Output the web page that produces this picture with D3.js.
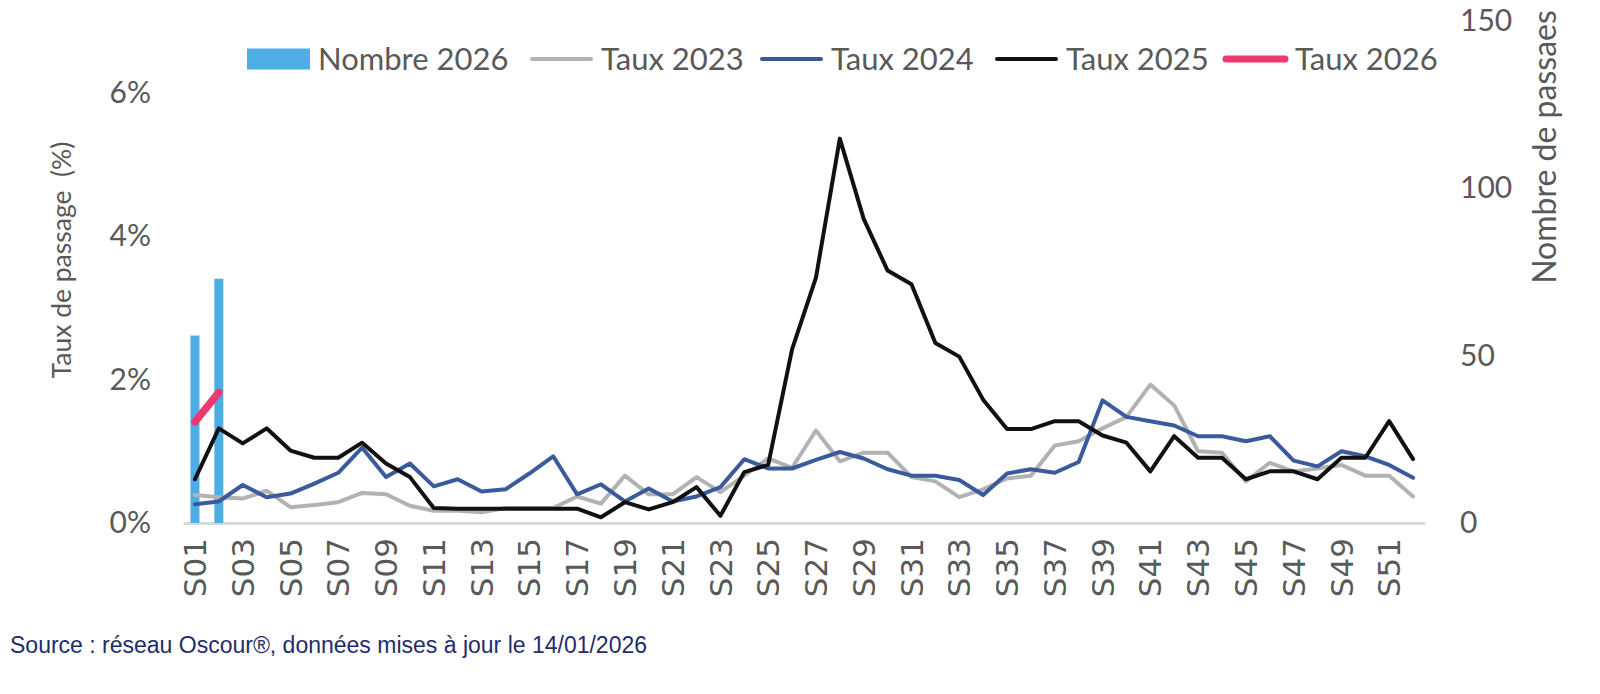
<!DOCTYPE html>
<html>
<head>
<meta charset="utf-8">
<script src="https://cdn.jsdelivr.net/npm/d3@7"></script>
<style>
  body { margin: 0; background: #fff; }
  text { font-family: Lato, "Open Sans", sans-serif; fill: #595959; }
</style>
</head>
<body>
<div id="chart"></div>
<script>
'use strict'
// semaines
var weeks = ['S01','S02','S03','S04','S05','S06','S07','S08','S09','S10',
  'S11','S12','S13','S14','S15','S16','S17','S18','S19','S20',
  'S21','S22','S23','S24','S25','S26','S27','S28','S29','S30',
  'S31','S32','S33','S34','S35','S36','S37','S38','S39','S40',
  'S41','S42','S43','S44','S45','S46','S47','S48','S49','S50',
  'S51','S52']

// nombre de passages 2026 (axe droit)
var nombre2026 = [56, 73]

// taux de passage (%)
var taux2023 = [0.39,0.36,0.34,0.45,0.22,0.25,0.29,0.42,0.40,0.24,
  0.17,0.17,0.15,0.21,0.21,0.21,0.37,0.27,0.66,0.40,
  0.40,0.64,0.43,0.66,0.90,0.77,1.29,0.86,0.98,0.98,
  0.64,0.58,0.36,0.47,0.62,0.66,1.08,1.14,1.32,1.48,
  1.93,1.64,1.00,0.98,0.58,0.84,0.72,0.76,0.81,0.66,
  0.66,0.37]
var taux2024 = [0.26,0.30,0.53,0.36,0.41,0.55,0.70,1.05,0.64,0.83,
  0.51,0.61,0.44,0.47,0.69,0.93,0.40,0.54,0.30,0.48,
  0.30,0.37,0.50,0.89,0.76,0.76,0.88,0.99,0.90,0.75,
  0.66,0.66,0.60,0.39,0.69,0.75,0.70,0.85,1.71,1.48,
  1.42,1.36,1.21,1.21,1.14,1.21,0.87,0.79,1.00,0.93,
  0.81,0.63]
var taux2025 = [0.61,1.32,1.11,1.32,1.01,0.91,0.91,1.12,0.83,0.64,
  0.21,0.20,0.20,0.20,0.20,0.20,0.20,0.08,0.29,0.19,
  0.29,0.50,0.10,0.71,0.81,2.42,3.42,5.36,4.24,3.52,
  3.33,2.51,2.32,1.72,1.31,1.31,1.42,1.42,1.22,1.12,
  0.72,1.21,0.91,0.91,0.61,0.72,0.72,0.61,0.91,0.91,
  1.42,0.89]
var taux2026 = [1.41, 1.82]

var leftTicks = [0, 2, 4, 6]
var rightTicks = [0, 50, 100, 150]

var colors = {
  bar: '#4fade6',
  t2023: '#b2b2b2',
  t2024: '#3a5a9c',
  t2025: '#111111',
  t2026: '#ec3a6e'
}

var W = 1600, H = 694
var svg = d3.select('#chart').append('svg')
            .attr('width', W)
            .attr('height', H)

var x = d3.scaleBand().domain(weeks).range([183, 1425])
var yL = d3.scaleLinear().domain([0, 7]).range([523, 21])
var yR = d3.scaleLinear().domain([0, 150]).range([523, 21])

// axe des semaines
var xAxis = svg.append('g')
  .attr('transform', 'translate(0,523)')
  .call(d3.axisBottom(x).tickSize(0).tickSizeOuter(0)
    .tickFormat(function (d, i) { return i % 2 === 0 ? d : '' }))
xAxis.select('.domain').attr('stroke', '#d9d9d9').attr('stroke-width', 3)
xAxis.selectAll('text')
  .attr('transform', 'rotate(-90)')
  .attr('x', -15)
  .attr('y', 0)
  .attr('dy', '0.36em')
  .attr('text-anchor', 'end')
  .style('font-family', '"DejaVu Sans", sans-serif')
  .style('font-size', '31px')
  .style('fill', '#595959')

// axe gauche
var left = svg.append('g')
  .attr('transform', 'translate(183,0)')
  .call(d3.axisLeft(yL).tickValues(leftTicks).tickSize(0).tickPadding(32)
    .tickFormat(function (d) { return d + '%' }))
left.select('.domain').remove()
left.selectAll('text').style('font-size', '30px').style('font-family', 'Lato')

// axe droit
var right = svg.append('g')
  .attr('transform', 'translate(1425,0)')
  .call(d3.axisRight(yR).tickValues(rightTicks).tickSize(0).tickPadding(35))
right.select('.domain').remove()
right.selectAll('text').style('font-size', '30px').style('font-family', 'Lato')

// barres
var barW = 9
svg.append('g').selectAll('rect')
  .data(nombre2026)
  .enter().append('rect')
  .attr('x', function (d, i) { return x(weeks[i]) + x.bandwidth() / 2 - barW / 2 })
  .attr('y', function (d) { return yR(d) })
  .attr('width', barW)
  .attr('height', function (d) { return yR(0) - yR(d) })
  .attr('fill', colors.bar)

// courbes
var line = d3.line()
  .x(function (d, i) { return x(weeks[i]) + x.bandwidth() / 2 })
  .y(function (d) { return yL(d) })

var series = [
  { values: taux2023, color: colors.t2023, width: 4 },
  { values: taux2024, color: colors.t2024, width: 4 },
  { values: taux2025, color: colors.t2025, width: 4 },
  { values: taux2026, color: colors.t2026, width: 7.5 }
]
series.forEach(function (s) {
  svg.append('path')
     .datum(s.values)
     .attr('d', line)
     .attr('fill', 'none')
     .attr('stroke', s.color)
     .attr('stroke-width', s.width)
     .attr('stroke-linejoin', 'round')
     .attr('stroke-linecap', 'round')
})

// légende
var legend = [
  { name: 'Nombre 2026', type: 'rect', color: colors.bar, x: 247 },
  { name: 'Taux 2023', type: 'line', color: colors.t2023, x: 530, w: 4 },
  { name: 'Taux 2024', type: 'line', color: colors.t2024, x: 760, w: 4 },
  { name: 'Taux 2025', type: 'line', color: colors.t2025, x: 995, w: 4 },
  { name: 'Taux 2026', type: 'line', color: colors.t2026, x: 1224, w: 7 }
]
var ly = 59
legend.forEach(function (it) {
  if (it.type === 'rect') {
    svg.append('rect').attr('x', it.x).attr('y', ly - 10.5)
       .attr('width', 63).attr('height', 21).attr('fill', it.color)
  } else {
    svg.append('line').attr('x1', it.x + 2).attr('x2', it.x + 61)
       .attr('y1', ly).attr('y2', ly)
       .attr('stroke', it.color).attr('stroke-width', it.w)
       .attr('stroke-linecap', 'round')
  }
  svg.append('text').attr('x', it.x + 71).attr('y', ly)
     .attr('dy', '0.35em')
     .style('font-size', '31px')
     .text(it.name)
})

// titres des axes
svg.append('text')
   .attr('transform', 'translate(62,260) rotate(-90)')
   .attr('text-anchor', 'middle')
   .attr('dy', '0.35em')
   .style('font-size', '26.5px')
   .style('white-space', 'pre')
   .text('Taux de passage  (%)')

svg.append('text')
   .attr('transform', 'translate(1545,147) rotate(-90)')
   .attr('text-anchor', 'middle')
   .attr('dy', '0.35em')
   .style('font-size', '32px')
   .text('Nombre de passaes')

// source
svg.append('text')
   .attr('x', 10)
   .attr('y', 653)
   .style('font-family', '"Liberation Sans", Arial, sans-serif')
   .style('font-size', '23px')
   .style('fill', '#1f2d6b')
   .text('Source : réseau Oscour®, données mises à jour le 14/01/2026')
</script>
</body>
</html>
